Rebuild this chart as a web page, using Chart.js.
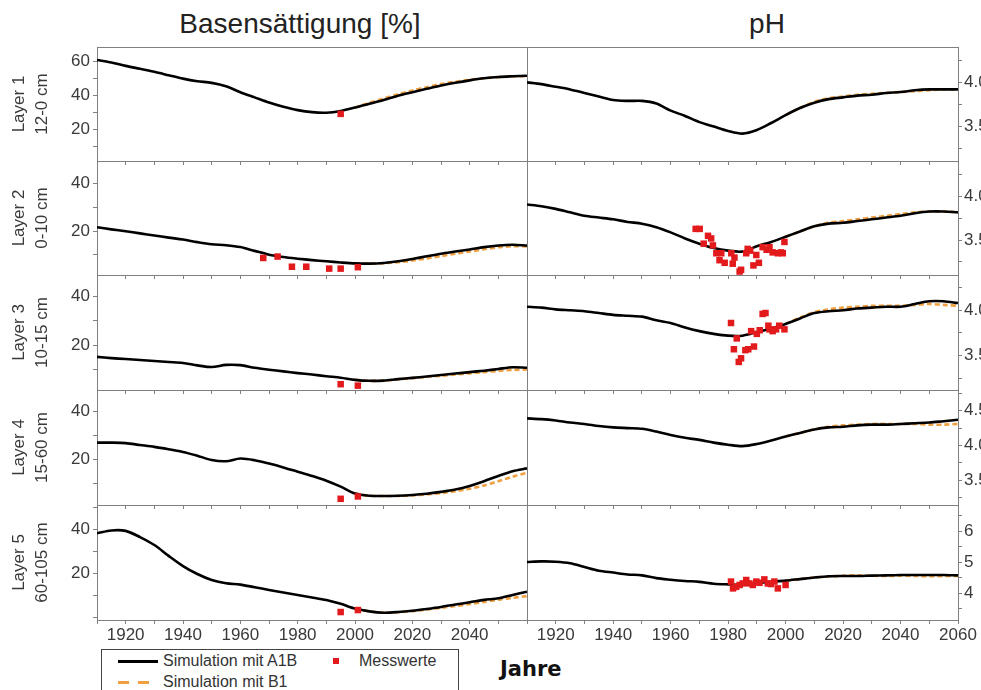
<!DOCTYPE html>
<html>
<head>
<meta charset="utf-8">
<script src="https://cdn.jsdelivr.net/npm/chart.js@4.4.0/dist/chart.umd.min.js"></script>
<style>
body { margin: 0; background: #fff; font-family: "Liberation Sans", Arial, sans-serif; }
#wrap { position: relative; width: 981px; height: 690px; overflow: hidden; }
#wrap canvas { position: absolute; }
.titel { position: absolute; top: 8px; font-size: 28px; line-height: 32px; color: #222; transform: translateX(-50%); white-space: nowrap; }
#jahre { position: absolute; left: 500px; top: 657px; font-family: "DejaVu Sans", sans-serif; font-size: 21px; font-weight: bold; color: #111; }
#legende { position: absolute; left: 101px; top: 649px; width: 356px; height: 50px; border: 1px solid #444; font-size: 16px; color: #333; }
#legende div { position: absolute; white-space: nowrap; }
</style>
</head>
<body>
<div id="wrap">
  <div class="titel" style="left:300px">Basensättigung [%]</div>
  <div class="titel" style="left:767px">pH</div>
  <div id="jahre">Jahre</div>
  <div id="legende">
    <div style="left:16px;top:10px;width:40px;border-top:3px solid #000"></div>
    <div style="left:61px;top:2px">Simulation mit A1B</div>
    <div style="left:231px;top:8px;width:6px;height:6px;background:#e31a1c"></div>
    <div style="left:257px;top:2px">Messwerte</div>
    <div style="left:16px;top:31px;width:11px;border-top:3px solid #f0a040"></div>
    <div style="left:36px;top:31px;width:11px;border-top:3px solid #f0a040"></div>
    <div style="left:61px;top:23px">Simulation mit B1</div>
  </div>
</div>
<script>
var jahre = [1910,1915,1920,1925,1930,1935,1940,1945,1950,1955,1960,1965,1970,1975,1980,1985,1990,1995,2000,2005,2010,2015,2020,2025,2030,2035,2040,2045,2050,2055,2060];
var jahreB1 = [2000,2005,2010,2015,2020,2025,2030,2035,2040,2045,2050,2055,2060];

// Basensaettigung [%]
var bs1A1B = [61,59.5,57.5,55.8,54,52,50,48.5,47.5,45.5,42,39,36,33.5,31.5,30.3,30,31,33,35.3,37.5,40,42,44,46,47.6,49,50.2,51,51.4,51.7];
var bs1B1 = [33,35.8,38.3,40.8,43,45,46.8,48.2,49.3,50.2,50.8,51.3,51.5];
var bs1MessJ = [1995];
var bs1MessW = [29.3];

var bs2A1B = [21.6,20.7,19.9,19,18.1,17.2,16.4,15.3,14.4,14,13.2,11.6,10,9,8.3,7.7,7.2,6.7,6.3,6.2,6.5,7.2,8.2,9.3,10.4,11.3,12.2,13.2,13.9,14.2,13.8];
var bs2B1 = [6.3,6.2,6.4,6.8,7.5,8.4,9.4,10.4,11.3,12.3,13.1,13.6,13.5];
var bs2MessJ = [1968,1973,1978,1983,1991,1995,2001];
var bs2MessW = [8.6,9.2,4.9,4.9,4.1,4.1,4.7];

var bs3A1B = [15.1,14.6,14.2,13.8,13.4,13,12.6,11.6,10.9,11.8,11.7,10.6,9.8,9.1,8.4,7.8,7.1,6.5,5.6,5.2,5.3,5.9,6.4,7,7.6,8.2,8.8,9.4,10.1,10.8,10.6];
var bs3B1 = [5.6,5.2,5.3,5.8,6.3,6.8,7.3,7.8,8.3,8.8,9.3,9.7,9.9];
var bs3MessJ = [1995,2001];
var bs3MessW = [3.8,3.2];

var bs4A1B = [27,27,26.8,26,25.2,24.2,23.1,21.5,19.7,19.2,20.3,19.6,18.2,16.6,14.8,13,11,8.5,5.6,4.7,4.6,4.7,5,5.5,6.3,7.3,8.8,10.8,13,15,16.2];
var bs4B1 = [5.6,4.7,4.6,4.6,4.8,5.2,5.8,6.6,7.6,9,10.8,12.7,14.3];
var bs4MessJ = [1995,2001];
var bs4MessW = [3.4,4.4];

var bs5A1B = [38.2,39.5,39.3,36.5,32.9,28,23.4,19.8,17.1,15.6,15,13.8,12.6,11.4,10.3,9.2,8,6.3,4.2,2.9,2.3,2.6,3.2,4,4.9,6,7,8.1,8.8,10.3,11.8];
var bs5B1 = [4.2,2.9,2.3,2.5,3,3.7,4.5,5.3,6.2,7.2,8.2,9,9.8];
var bs5MessJ = [1995,2001];
var bs5MessW = [2.6,3.5];

// pH
var ph1A1B = [4.0,3.98,3.95,3.92,3.88,3.84,3.80,3.79,3.79,3.76,3.68,3.62,3.55,3.50,3.45,3.42,3.46,3.54,3.63,3.71,3.77,3.81,3.83,3.85,3.86,3.88,3.89,3.91,3.92,3.92,3.92];
var ph1B1 = [3.63,3.71,3.78,3.82,3.84,3.86,3.87,3.88,3.89,3.90,3.91,3.92,3.92];

var ph2A1B = [3.91,3.89,3.86,3.82,3.78,3.76,3.74,3.71,3.69,3.65,3.59,3.52,3.46,3.41,3.38,3.37,3.43,3.48,3.54,3.60,3.66,3.69,3.70,3.72,3.74,3.76,3.78,3.81,3.83,3.83,3.82];
var ph2B1 = [3.54,3.60,3.66,3.70,3.72,3.74,3.76,3.78,3.80,3.82,3.83,3.83,3.82];
var ph2MessJ = [1968.7,1970.1,1973,1974.1,1971.5,1974.7,1975.9,1977.6,1977,1978.8,1981.1,1982.2,1981.6,1984,1984.5,1986.3,1986.8,1987.7,1989.8,1988.8,1990.7,1992,1993.4,1994.4,1995.5,1997.3,1998.4,1999,1999.6];
var ph2MessW = [3.63,3.63,3.55,3.52,3.46,3.44,3.35,3.35,3.27,3.24,3.35,3.30,3.23,3.14,3.16,3.35,3.40,3.38,3.33,3.21,3.24,3.42,3.39,3.42,3.36,3.35,3.36,3.35,3.48];

var ph3A1B = [4.04,4.03,4.01,4.00,3.99,3.97,3.95,3.94,3.93,3.89,3.86,3.81,3.77,3.74,3.72,3.72,3.76,3.80,3.85,3.91,3.97,3.99,4.00,4.02,4.03,4.04,4.04,4.07,4.10,4.10,4.08];
var ph3B1 = [3.85,3.92,3.98,4.01,4.03,4.04,4.05,4.05,4.05,4.06,4.07,4.06,4.05];
var ph3MessJ = [1981,1992,1993,1983,1982,1986,1987,1989,1984.5,1983.7,1988,1990,1991,1994,1994.4,1995.5,1996.7,1997.8,1999.6];
var ph3MessW = [3.86,3.96,3.97,3.69,3.57,3.56,3.57,3.60,3.47,3.43,3.77,3.74,3.78,3.83,3.79,3.77,3.79,3.83,3.79];

var ph4A1B = [4.39,4.38,4.36,4.33,4.31,4.28,4.26,4.25,4.24,4.20,4.15,4.11,4.08,4.04,4.01,3.99,4.02,4.07,4.13,4.18,4.23,4.26,4.27,4.29,4.30,4.30,4.31,4.32,4.33,4.35,4.37];
var ph4B1 = [4.13,4.18,4.23,4.27,4.29,4.30,4.31,4.31,4.31,4.31,4.30,4.30,4.31];

var ph5A1B = [5.0,5.02,5.01,4.96,4.84,4.72,4.66,4.60,4.57,4.48,4.43,4.39,4.36,4.30,4.28,4.27,4.32,4.36,4.40,4.45,4.50,4.54,4.55,4.55,4.56,4.57,4.58,4.58,4.58,4.58,4.57];
var ph5B1 = [4.40,4.45,4.50,4.53,4.56,4.57,4.56,4.55,4.56,4.55,4.54,4.55,4.55];
var ph5MessJ = [1981,1981.7,1982.8,1984,1985.1,1986.3,1987.4,1988.6,1989.8,1990.9,1992.6,1993.8,1994.9,1996.1,1997.3,2000];
var ph5MessW = [4.37,4.15,4.20,4.26,4.31,4.42,4.31,4.26,4.37,4.33,4.44,4.31,4.29,4.37,4.15,4.26];

var schichten = [['Layer 1','12-0 cm'],['Layer 2','0-10 cm'],['Layer 3','10-15 cm'],['Layer 4','15-60 cm'],['Layer 5','60-105 cm']];

var zeilenOben = [47,161,275,390,505,620];
var schrift = { family: '"Liberation Sans", Arial, sans-serif', size: 17 };
var achsFarbe = '#808080';
var textFarbe = '#3a3a3a';

function punkte(xs, ys) {
	var out = [];
	for (var i = 0; i < xs.length; i++) out.push({ x: xs[i], y: ys[i] });
	return out;
}

function labelBS(v) { return (v % 20 == 0 && v > 0) ? String(v) : ''; }
function labelPH(v) { return (Math.abs(v * 2 - Math.round(v * 2)) < 1e-6) ? v.toFixed(1) : ''; }
function labelPH5(v) { return (Math.abs(v - Math.round(v)) < 1e-6) ? String(Math.round(v)) : ''; }

// no extra room for labels at the ends, the panels have to touch
function keinRand(s) {
	s.paddingTop = 0; s.paddingBottom = 0; s.paddingLeft = 0; s.paddingRight = 0;
}

var rahmen = {
	id: 'rahmen',
	beforeDatasetsDraw: function(chart) {
		var a = chart.chartArea, ctx = chart.ctx;
		ctx.save();
		ctx.strokeStyle = achsFarbe;
		ctx.lineWidth = 1;
		ctx.strokeRect(Math.round(a.left) + 0.5, Math.round(a.top) + 0.5, Math.round(a.right - a.left), Math.round(a.bottom - a.top));
		ctx.restore();
	}
};

var panels = [
	{ spalte: 0, zeile: 0, a1b: bs1A1B, b1: bs1B1, mj: bs1MessJ, mw: bs1MessW, min: 1.6, max: 68.6, step: 10, label: labelBS },
	{ spalte: 0, zeile: 1, a1b: bs2A1B, b1: bs2B1, mj: bs2MessJ, mw: bs2MessW, min: 1.4, max: 49.6, step: 10, label: labelBS },
	{ spalte: 0, zeile: 2, a1b: bs3A1B, b1: bs3B1, mj: bs3MessJ, mw: bs3MessW, min: 1.4, max: 49, step: 10, label: labelBS },
	{ spalte: 0, zeile: 3, a1b: bs4A1B, b1: bs4B1, mj: bs4MessJ, mw: bs4MessW, min: 0.8, max: 49.1, step: 10, label: labelBS },
	{ spalte: 0, zeile: 4, a1b: bs5A1B, b1: bs5B1, mj: bs5MessJ, mw: bs5MessW, min: -1, max: 51, step: 10, label: labelBS },
	{ spalte: 1, zeile: 0, a1b: ph1A1B, b1: ph1B1, mj: [], mw: [], min: 3.11, max: 4.40, step: 0.25, label: labelPH },
	{ spalte: 1, zeile: 1, a1b: ph2A1B, b1: ph2B1, mj: ph2MessJ, mw: ph2MessW, min: 3.10, max: 4.41, step: 0.25, label: labelPH },
	{ spalte: 1, zeile: 2, a1b: ph3A1B, b1: ph3B1, mj: ph3MessJ, mw: ph3MessW, min: 3.12, max: 4.39, step: 0.25, label: labelPH },
	{ spalte: 1, zeile: 3, a1b: ph4A1B, b1: ph4B1, mj: [], mw: [], min: 3.14, max: 4.80, step: 0.25, label: labelPH },
	{ spalte: 1, zeile: 4, a1b: ph5A1B, b1: ph5B1, mj: ph5MessJ, mw: ph5MessW, min: 3.13, max: 6.84, step: 0.5, label: labelPH5 }
];

function zeichnePanel(p) {
	var links = p.spalte == 0;
	var unten = p.zeile == 4;
	var oben = zeilenOben[p.zeile], hoehe = zeilenOben[p.zeile + 1] - oben;
	var xH = unten ? 34 : 6;
	var cx = links ? 0 : 524, cw = links ? 530 : 457;
	var ch = 3 + hoehe + xH;

	var cv = document.createElement('canvas');
	cv.width = cw; cv.height = ch;
	cv.style.left = cx + 'px'; cv.style.top = (oben - 3) + 'px';
	cv.style.width = cw + 'px'; cv.style.height = ch + 'px';
	document.getElementById('wrap').appendChild(cv);

	new Chart(cv.getContext('2d'), {
		type: 'line',
		data: {
			datasets: [
				{ label: 'Messwerte', data: punkte(p.mj, p.mw), showLine: false, pointStyle: 'rect', pointRadius: 4.6, backgroundColor: '#e31a1c', borderWidth: 0, order: 0 },
				{ label: 'Simulation mit A1B', data: punkte(jahre, p.a1b), borderColor: '#000', borderWidth: 2.6, pointRadius: 0, tension: 0.3, order: 1 },
				{ label: 'Simulation mit B1', data: punkte(jahreB1, p.b1), borderColor: '#f0a040', borderWidth: 2.6, borderDash: [5, 3], pointRadius: 0, tension: 0.3, order: 2 }
			]
		},
		options: {
			responsive: false,
			animation: false,
			events: [],
			layout: { autoPadding: false, padding: { top: 3, bottom: 0, left: links ? 0 : 3, right: links ? 3 : 0 } },
			plugins: { legend: { display: false }, tooltip: { enabled: false } },
			scales: {
				x: {
					type: 'linear', position: 'bottom', min: 1910, max: 2060,
					border: { display: false },
					grid: { drawOnChartArea: false, drawTicks: true, tickLength: 4, color: achsFarbe },
					ticks: {
						stepSize: 10, autoSkip: false, maxRotation: 0, includeBounds: false, padding: 1,
						font: schrift, color: textFarbe,
						callback: function(v) {
							if (!unten) return '';
							if (links && v == 2060) return '';
							return (v % 20 == 0) ? String(v) : '';
						}
					},
					afterFit: function(s) { s.height = xH; keinRand(s); }
				},
				y: {
					type: 'linear', position: links ? 'left' : 'right', min: p.min, max: p.max,
					border: { display: false },
					grid: { drawOnChartArea: false, drawTicks: true, tickLength: 4, color: achsFarbe },
					ticks: { stepSize: p.step, autoSkip: false, includeBounds: false, padding: links ? 3 : 2, font: schrift, color: textFarbe, callback: p.label },
					title: {
						display: links, text: schichten[p.zeile], color: textFarbe,
						font: { family: schrift.family, size: 17, lineHeight: 1.35 },
						padding: { top: 8, bottom: 0 }
					},
					afterFit: function(s) { s.width = links ? 97 : 23; keinRand(s); }
				}
			}
		},
		plugins: [rahmen]
	});
}

for (var i = 0; i < panels.length; i++) zeichnePanel(panels[i]);
</script>
</body>
</html>
